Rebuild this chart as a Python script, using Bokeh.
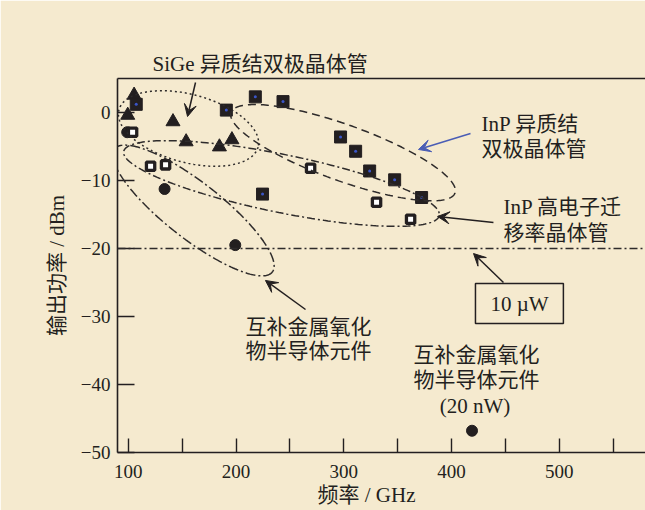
import numpy as np
from bokeh.plotting import figure
from bokeh.models import (Label, Arrow, VeeHead, Span, BoxAnnotation, FixedTicker,
                          LinearAxis, Range1d, PolyAnnotation, Title)
from bokeh.embed import file_html
from bokeh.resources import INLINE

# ---------------- data ----------------
sige_freq = [99.5, 105.4, 141.5, 153.7, 184.6, 196.2]
sige_pow = [-0.4, 2.55, -1.35, -4.3, -5.05, -4.0]

inp_hbt_freq = [107.4, 191.0, 217.9, 243.6, 297.0, 311.0, 324.0, 347.2, 372.2, 224.6]
inp_hbt_pow = [1.2, 0.35, 2.3, 1.6, -3.6, -5.7, -8.6, -9.9, -12.5, -12.0]

inp_hemt_freq = [104.0, 120.7, 134.6, 269.2, 330.4, 362.0]
inp_hemt_pow = [-2.9, -7.9, -7.7, -8.2, -13.2, -15.7]

cmos_freq = [99.0, 133.7, 199.3, 419.0]
cmos_pow = [-2.9, -11.25, -19.5, -46.8]

x_ticks = [100, 200, 300, 400, 500]
x_minor_ticks = [150, 250, 350, 450, 550]
y_ticks = [-50, -40, -30, -20, -10, 0]
y_tick_labels = ["\u221250", "\u221240", "\u221230", "\u221220", "\u221210", "0"]
ref_level_dbm = -20   # 10 uW

# ---------------- style ----------------
BG = "#F5EACF"
INK = "#231F20"
LINE = "#2E2B2B"
BLUE = "#4A5DB5"
MIXED = "Liberation Serif, Noto Sans CJK SC"
SERIF = "Liberation Serif"
FS = "21px"

X0, X1 = 90, 580
Y0, Y1 = -50, 5
FRAME_W, FRAME_H = 528, 374
SX = FRAME_W / (X1 - X0)
SY = FRAME_H / (Y1 - Y0)

p = figure(width=645, height=510, x_range=Range1d(X0, X1), y_range=Range1d(Y0, Y1),
           output_backend="svg", toolbar_location=None,
           min_border_left=117, min_border_right=0, min_border_top=78, min_border_bottom=58,
           background_fill_color=BG, border_fill_color=BG, outline_line_color=None)
p.grid.visible = False

# x axis
xa = p.xaxis[0]
xa.ticker = FixedTicker(ticks=x_ticks, minor_ticks=x_minor_ticks)
xa.major_tick_in = 14
xa.major_tick_out = 0
xa.minor_tick_in = 14
xa.minor_tick_out = 0
xa.major_label_standoff = 12
for ax in (xa, p.yaxis[0]):
    ax.axis_line_width = 1.6
    ax.axis_line_color = INK
    ax.major_tick_line_width = 1.4
    ax.major_tick_line_color = INK
    ax.minor_tick_line_width = 1.4
    ax.minor_tick_line_color = INK
    ax.major_label_text_font = SERIF
    ax.major_label_text_font_size = "19px"
    ax.major_label_text_color = INK

ya = p.yaxis[0]
ya.ticker = FixedTicker(ticks=y_ticks)
ya.major_label_overrides = {t: s for t, s in zip(y_ticks, y_tick_labels)}
ya.major_tick_in = 17
ya.major_tick_out = 0
ya.minor_tick_line_color = None
ya.major_label_standoff = 7
ya.axis_label = "输出功率 / dBm"
ya.axis_label_text_font = MIXED
ya.axis_label_text_font_size = FS
ya.axis_label_text_font_style = "normal"
ya.axis_label_text_color = INK
ya.axis_label_standoff = 9

top = LinearAxis(ticker=FixedTicker(ticks=[]), axis_line_width=1.6, axis_line_color=INK,
                 major_tick_line_color=None, minor_tick_line_color=None)
p.add_layout(top, "above")

# titles used as the out-of-frame texts
p.add_layout(Title(text="SiGe 异质结双极晶体管", align="left", offset=35, standoff=6,
                   text_font=MIXED, text_font_size=FS, text_font_style="normal",
                   text_color=INK), "above")
p.add_layout(Title(text="频率 / GHz", align="left", offset=200, standoff=0,
                   text_font=MIXED, text_font_size=FS, text_font_style="normal",
                   text_color=INK), "below")

# reference level line
p.add_layout(Span(location=ref_level_dbm, dimension="width", line_color=LINE,
                  line_width=1.4, line_dash="8 3 2 3"))

# grouping ellipses (center in data, semi-axes in px, tilt in degrees)
def ring(cx, cy, a, b, deg, dash):
    t = np.linspace(0, 2 * np.pi, 240)
    th = np.radians(deg)
    px, py = a * np.cos(t), b * np.sin(t)
    X = px * np.cos(th) - py * np.sin(th)
    Y = px * np.sin(th) + py * np.cos(th)
    xs = (cx + X / SX).tolist()
    ys = (cy - Y / SY).tolist()
    p.add_layout(PolyAnnotation(xs=xs, ys=ys, fill_alpha=0, line_color=LINE,
                                line_alpha=1, line_width=1.5, line_dash=dash))

ring(155.9, -2.35, 72, 34, 15, "2 3")          # SiGe HBT
ring(299.3, -5.91, 119, 28, 19.8, "8 5")       # InP HBT
ring(242.2, -10.44, 161, 29, 11.5, "8 3 2 3")  # InP HEMT
ring(160.5, -14.41, 100, 28, 38, "10 3 2 3")   # CMOS

# markers
p.scatter(sige_freq, sige_pow, marker="triangle", size=14, fill_color=INK, line_color=INK)
p.scatter(cmos_freq, cmos_pow, marker="circle", size=11, fill_color=INK, line_color=INK)
p.scatter(inp_hemt_freq, inp_hemt_pow, marker="square", size=8.3, fill_color="white",
          line_color=INK, line_width=3.3)
p.scatter(inp_hbt_freq, inp_hbt_pow, marker="square", size=12, fill_color=INK, line_color=INK)
p.scatter(inp_hbt_freq, inp_hbt_pow, marker="circle", size=3, fill_color="#3A55C8",
          line_color=None)

# arrows
def arrow(x0, y0, x1, y1, c=INK):
    p.add_layout(Arrow(end=VeeHead(size=12, fill_color=c, line_color=c, line_width=1),
                       x_start=x0, y_start=y0, x_end=x1, y_end=y1,
                       line_color=c, line_width=1.5))

arrow(162.4, 4.41, 155.0, -0.59)
arrow(417.6, -3.09, 369.3, -5.44, BLUE)
arrow(438.9, -16.18, 387.0, -15.29)
arrow(448.2, -25.0, 420.4, -20.74)
arrow(264.5, -28.97, 227.3, -24.7)

# texts
def label(x, y, text, align="left"):
    p.add_layout(Label(x=x, y=y, text=text, text_font=MIXED, text_font_size=FS,
                       text_color=INK, text_align=align, text_baseline="middle"))

label(427.8, -1.62, "InP 异质结")
label(427.8, -5.44, "双极晶体管")
label(448.2, -13.97, "InP 高电子迁")
label(448.2, -17.65, "移率晶体管")
label(208.8, -31.6, "互补金属氧化")
label(208.8, -35.07, "物半导体元件")
label(364.7, -35.7, "互补金属氧化")
label(364.7, -39.37, "物半导体元件")
label(421.8, -43.1, "(20 nW)", "center")
label(463.1, -28.1, "10 µW", "center")

p.add_layout(BoxAnnotation(left=422.2, right=503.8, top=-25.15, bottom=-31.03,
                           fill_alpha=0, line_color=INK, line_alpha=1, line_width=1.5))

open("out.html", "w").write(file_html(p, INLINE))
